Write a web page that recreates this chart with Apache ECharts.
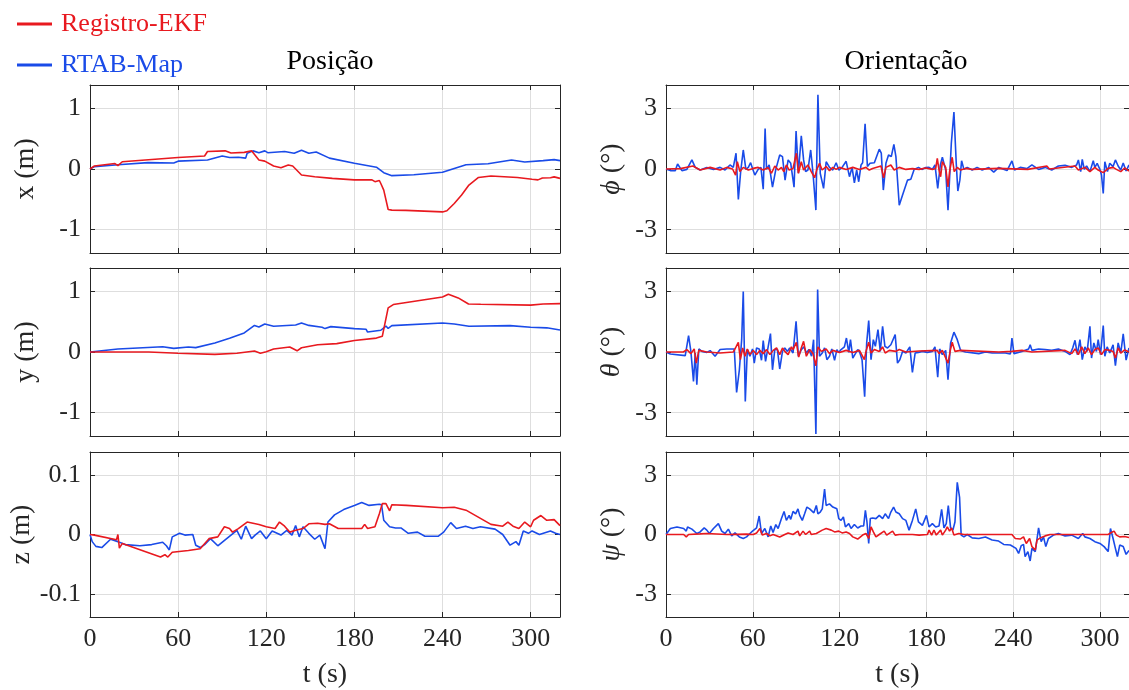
<!DOCTYPE html>
<html>
<head>
<meta charset="utf-8">
<title>Posição e Orientação</title>
<script src="https://cdn.jsdelivr.net/npm/echarts@6/dist/echarts.min.js"></script>
<style>
  html, body { margin: 0; padding: 0; background: #ffffff; }
  #chart { width: 1129px; height: 690px; }
</style>
</head>
<body>
<div id="chart"></div>
<script>
// ---- time axis ----
const T_MIN = 0;
const T_MAX = 320;
const tTicks = [0, 60, 120, 180, 240, 300];

// ---- y tick values ----
const posTicks = [-1, 0, 1];
const zTicks = [-0.1, 0, 0.1];
const angTicks = [-3, 0, 3];
const posRange = 1.39;
const zRange = 0.139;
const angRange = 4.15;

// ---- position (m): [t (s), value] ----
const ekfX = [[0,0],[3,0.05],[17,0.09],[19,0.055],[22,0.12],[60,0.19],[78,0.215],[80,0.29],[92,0.30],[96,0.265],[105,0.275],[110,0.30],[115,0.15],[119,0.13],[125,0.05],[130,0.02],[135,0.065],[138,0.05],[144,-0.10],[153,-0.127],[165,-0.155],[180,-0.18],[192,-0.18],[194,-0.21],[197,-0.19],[198,-0.24],[200,-0.35],[203,-0.67],[205.5,-0.68],[215,-0.685],[240,-0.71],[243,-0.69],[248,-0.57],[253,-0.43],[258,-0.265],[264.5,-0.14],[273,-0.115],[291,-0.14],[301,-0.17],[305,-0.18],[308,-0.15],[313.5,-0.145],[316,-0.13],[320,-0.155]];
const rtabX = [[0,0],[3,0.04],[19,0.07],[39.5,0.105],[57,0.10],[60,0.13],[80,0.15],[90,0.215],[95,0.19],[101,0.195],[106,0.18],[107,0.26],[111,0.30],[115,0.27],[119,0.30],[121,0.27],[132.5,0.29],[139,0.26],[144,0.31],[149,0.26],[154,0.28],[163,0.18],[180,0.094],[195,0.03],[200,-0.06],[205.5,-0.11],[220.5,-0.094],[240,-0.055],[248,0.01],[256,0.07],[271,0.088],[287,0.15],[296,0.116],[308.5,0.138],[316,0.155],[320,0.138]];

const ekfY = [[0,0],[40,0],[60,-0.02],[85,-0.04],[100,-0.02],[112,0.017],[116,-0.02],[120,0.005],[125,0.05],[136,0.083],[141,0.02],[144,0.07],[155,0.12],[168,0.138],[180,0.19],[195,0.23],[199,0.26],[203,0.73],[206.5,0.785],[240,0.91],[244,0.955],[250.7,0.895],[257.7,0.795],[266,0.79],[300,0.775],[308.5,0.795],[320,0.80]];
const rtabY = [[0,0],[19,0.05],[49.5,0.088],[57,0.06],[67,0.083],[72,0.072],[85,0.15],[95,0.227],[105,0.315],[112,0.44],[115,0.414],[119,0.464],[125,0.425],[140,0.447],[144,0.48],[149,0.44],[158,0.41],[160,0.387],[164,0.42],[180,0.387],[188,0.376],[189,0.33],[198,0.36],[201.5,0.43],[203,0.39],[205.5,0.436],[240,0.48],[248,0.464],[258,0.425],[286,0.436],[300,0.41],[311,0.40],[320,0.365]];

const ekfZ = [[0,0],[3,-0.001],[18,-0.009],[19,0.0],[20,-0.023],[22,-0.015],[48,-0.038],[51,-0.034],[53,-0.038],[56,-0.030],[67,-0.027],[75,-0.024],[81,-0.007],[87,-0.004],[91.5,0.013],[95,0.01],[97,0.004],[101,0.01],[107,0.021],[115,0.017],[120,0.013],[126,0.01],[129,0.021],[132.5,0.014],[136,0.004],[140,0.007],[145,0.01],[149,0.018],[155,0.019],[160,0.017],[163,0.018],[169,0.01],[178,0.01],[185,0.01],[187,0.017],[189,0.01],[194,0.013],[197,0.035],[199,0.052],[201.5,0.052],[204,0.04],[205.5,0.05],[215.5,0.049],[240,0.045],[248,0.046],[256,0.041],[273,0.017],[281,0.014],[284.5,0.021],[288,0.014],[292,0.01],[296,0.021],[300,0.013],[302,0.024],[307,0.032],[311,0.024],[316,0.025],[320,0.015]];
const rtabZ = [[0,0],[1.5,-0.012],[4,-0.02],[8,-0.022],[14,-0.008],[19,-0.012],[24,-0.017],[34,-0.019],[42,-0.017],[49.5,-0.013],[52,-0.019],[54,-0.026],[56,-0.004],[61,0.002],[64.6,-0.001],[70,0],[72,-0.018],[75,-0.022],[78,-0.017],[82,-0.007],[87,-0.019],[92,-0.009],[96,-0.001],[100,0.007],[103,-0.008],[106,0.014],[110,-0.007],[112.4,-0.001],[116,0.006],[120,-0.007],[124,0.006],[130,-0.001],[134,0.007],[137.5,-0.001],[140,0.015],[142.5,-0.004],[145,0.013],[149,0.002],[153,-0.008],[156.5,-0.001],[160,-0.024],[162,0.021],[166.5,0.033],[172.7,0.042],[180,0.049],[185,0.054],[190,0.049],[197,0.051],[198.5,0.05],[200,0.024],[204,0.013],[208,0.011],[211.7,0.011],[216.7,0.002],[223,0.004],[228,-0.003],[237,-0.003],[240.8,0.004],[245.6,0.02],[249.5,0.01],[255.7,0.014],[260.7,0.01],[265.8,0.013],[275.8,0.009],[281,0],[286,-0.018],[290,-0.012],[292,-0.018],[295,0.006],[298.5,0.002],[301,0.006],[306,0],[313.5,0.006],[317,0.002],[320,0]];

// ---- orientation (deg): [t (s), value] ----
const ekfPhi = [[0,0],[10,0.02],[18.6,0.15],[23.6,-0.05],[30.5,0.08],[37.4,-0.05],[42,0.08],[46,0],[48.1,-0.3],[49.3,0.36],[51.1,-0.13],[53.4,0.08],[56.9,-0.05],[60.3,0.03],[63.7,0.08],[67.2,-0.05],[70.6,0.07],[72.9,-0.21],[75.2,0.15],[77.5,-0.05],[79.8,0.08],[81.4,-0.13],[83.2,0.2],[85.1,-0.05],[87.8,0.03],[90.1,0.78],[91.5,-0.21],[93.5,0.36],[95.1,-0.05],[98.1,0.2],[100.4,-0.13],[102.7,-0.43],[104.3,-0.02],[106.1,0.28],[107.9,-0.05],[110.7,0.12],[113,-0.08],[115.3,0.08],[117.6,-0.02],[119.9,0.08],[124.5,-0.02],[129.1,0.08],[133.7,-0.02],[138.2,0.08],[140.5,-0.05],[142.8,0.02],[148.6,0.15],[150.4,-0.43],[152,0.08],[155.4,0.2],[157.7,-0.05],[161.2,0.08],[165.8,-0.02],[170.3,0.02],[174.9,-0.02],[179.5,0.05],[184.1,-0.02],[186.4,0.03],[187.5,0.53],[188.7,-0.05],[189.8,-0.38],[191,0.36],[193.3,0.08],[194.9,-0.88],[196,-0.13],[197.8,0.58],[199.2,-0.13],[201.3,0.08],[203.6,-0.05],[207,0.03],[211.6,-0.02],[230,0.03],[250,-0.02],[263.2,0.15],[265,0],[282.7,0.15],[285,-0.05],[289.5,0.08],[293,-0.13],[296.4,0.08],[298.7,-0.05],[302.2,-0.18],[305.6,0.03],[309,0.08],[311.3,-0.02],[314.3,-0.13],[317,0.05],[320,-0.1]];
const rtabPhi = [[0,0],[3,-0.08],[6.4,-0.08],[8,0.25],[11,-0.08],[14.4,-0.02],[17.9,0.45],[20.2,0.08],[23.6,-0.05],[28.2,0.07],[32.8,-0.02],[37.4,0.08],[40.8,-0.05],[44.2,0.2],[46.5,0.08],[48.4,0.78],[50,-1.5],[51.6,-0.13],[53.4,0.94],[55.2,-0.02],[56.9,0.08],[58.5,0.31],[59.8,0.03],[61.4,-0.3],[63.7,-0.02],[65.6,0.08],[67.2,-1.0],[68.5,2.0],[69.5,-0.02],[71.3,0.2],[73.6,-0.9],[75.9,-0.02],[78.6,0.69],[80.5,0.61],[82.3,-0.55],[84.4,0.45],[86.2,0.28],[88.5,-0.9],[89.9,1.88],[91.5,-0.21],[93.5,1.64],[95.1,0.45],[96.5,-0.13],[98.1,-0.05],[100,0.94],[101.6,-0.21],[103.6,-2.03],[105,3.67],[106.6,-0.21],[108.9,-0.96],[110.7,0.36],[113,0.08],[115.3,-0.05],[117.6,0.31],[119.4,-0.05],[121.7,0.08],[124.5,0.38],[126.8,-0.38],[128.6,0.08],[130.2,-0.68],[131.8,-0.05],[133.2,-0.63],[134.8,0.2],[135.9,0.31],[137.6,2.23],[139.2,0.12],[141,0.28],[144,0.31],[147.4,0.98],[148.8,0.78],[150.2,-1.04],[152,0.28],[153.8,0.69],[155.7,0.61],[157.5,1.22],[158.9,0.61],[161.2,-1.79],[163.5,-1.29],[166.9,-0.55],[169.2,-0.51],[171.5,-0.02],[174.5,0.08],[176.8,-0.02],[179.5,0.07],[181.8,0.08],[184.1,-0.02],[185.9,0.2],[187.8,-0.96],[189.6,0.2],[191,0.58],[193.3,-0.05],[194.9,-2.03],[197.2,1.27],[199,2.81],[200.6,0.28],[201.7,-1.09],[203.1,-0.55],[204.3,0.41],[205.9,-0.02],[208.2,0.08],[211.6,-0.05],[215,0.08],[218.5,-0.05],[223.1,0.07],[226.5,-0.15],[230,0.08],[235.7,-0.08],[239.1,0.4],[240.9,-0.05],[244.8,0.08],[249.4,0.02],[252.9,0.2],[257.5,-0.02],[262,0.08],[266.6,-0.05],[271.2,0.15],[275.8,0.18],[280.4,0.08],[283.8,0.2],[285,0.45],[286.6,-0.13],[287.7,0.48],[289.1,-0.02],[290.7,0.15],[293,-0.13],[295.3,0.41],[296.4,0.08],[298,0.28],[299.9,-0.02],[301,-0.3],[302.2,-1.21],[303.3,0.36],[305.1,-0.13],[306.7,0.28],[309,0.12],[310.6,0.45],[312.5,0.15],[314.3,-0.05],[316,0.3],[318,-0.1],[320,0.2]];

const ekfTheta = [[0,0],[12,0],[14.4,0.12],[17.2,-0.08],[19.5,0.15],[20.9,-0.55],[22.7,0.08],[28.2,0],[37.4,-0.05],[46.5,0],[48.4,0.25],[50,0.48],[51.4,-0.38],[53,0.2],[54.6,-0.21],[56.2,0.15],[58,-0.13],[60.3,0.08],[62.6,-0.13],[64.9,0.08],[67.2,-0.08],[69.5,0.12],[71.8,-0.13],[74.1,0.08],[76.4,0.2],[78.6,-0.13],[80.5,0.2],[82.1,0.03],[84.4,-0.13],[86.7,0.25],[87.8,0.12],[90.1,0.48],[91.7,-0.25],[93.5,0.2],[95.1,0.53],[97,-0.21],[99.3,0.12],[101.6,-0.08],[103.6,-0.68],[105,0.25],[107.3,0.03],[110.7,0.15],[113,-0.08],[115.3,0.08],[119.9,-0.02],[124.5,0.08],[129.1,-0.02],[133.7,0.08],[137.1,-0.38],[138.2,0.03],[140.1,0.48],[141.7,-0.05],[144,0.12],[147.4,0.03],[149.7,0.25],[151.5,-0.05],[154.3,0.08],[158.9,0.03],[161.2,0.12],[165.8,0],[175,0.05],[187.5,0.08],[188.7,-0.08],[191,0.08],[194.9,-0.55],[196.7,0.15],[197.8,0.48],[199.7,0.03],[203.6,0.08],[230,0],[239.1,0.03],[246,0.08],[252.9,0],[275.8,0.08],[280.4,-0.08],[282.7,0.15],[285,-0.13],[287.3,0.25],[289.5,-0.08],[291.8,0.2],[294.1,-0.13],[296.4,0.12],[298.7,0.2],[301,-0.13],[303.3,0.12],[306.7,0.08],[309,0.03],[310.6,-0.3],[312.5,0.2],[314.3,-0.05],[317,0.1],[320,0]];
const rtabTheta = [[0,0],[3,-0.1],[13.3,-0.18],[15.6,0.81],[17.2,0.03],[19,-1.45],[20.2,-0.05],[21.3,-1.62],[22.7,0.15],[24.8,0.03],[28.2,-0.02],[30.5,0.07],[33.9,-0.21],[37.4,0.12],[42,0.15],[45.4,0.15],[47.2,0.15],[48.8,-2.0],[50.7,-0.88],[52.3,0.61],[53.4,2.99],[54.8,-2.45],[56.2,0.12],[58,-0.21],[59.8,0.15],[61,-0.55],[62.6,0.2],[64.4,0.15],[66,-0.41],[67.2,0.56],[68.8,-0.46],[70.6,0.25],[72.2,0.91],[73.6,-0.88],[75.2,0.12],[77,0.12],[78.6,-0.84],[80.5,0.03],[82.1,0.2],[83.9,0.03],[85.5,0.2],[87.8,-0.05],[89.9,1.52],[91.5,-0.21],[93.5,0.12],[95.4,0.25],[97,-0.05],[98.8,0.12],[100.6,-0.21],[102,0.61],[103.6,-4.05],[104.8,3.09],[106.1,-0.21],[108,-0.05],[109.6,0.2],[111.2,-0.38],[113,-0.21],[114.6,0.15],[116.5,-0.41],[118.1,0.12],[119.4,-0.02],[121,0.12],[123.3,0.25],[124.7,0.69],[126.3,-0.02],[127.5,0.61],[129.1,-0.3],[130.9,-0.08],[132.5,0.12],[133.9,-0.02],[135.5,-0.38],[137.3,-2.21],[138.7,0.45],[140.1,1.55],[141.7,-0.38],[143.3,0.61],[144.7,0.28],[146.5,1.11],[148.1,0.03],[149.7,1.27],[151.3,0.28],[153.1,0.2],[155.4,0.36],[158.4,0.86],[160,-0.55],[161.6,-0.38],[163.5,0.03],[165.8,-0.05],[168.5,0.25],[170.3,-1.01],[172.2,-0.05],[174.5,-0.02],[177.2,0.03],[180.7,-0.02],[184.1,0.03],[185.9,0.25],[187.8,-1.24],[189.1,0.15],[191,-0.13],[193.3,0.08],[194.9,-1.37],[196.7,0.45],[199,0.98],[201.3,0.61],[203.6,0.08],[207,0],[216.2,-0.08],[220.8,0],[225.4,-0.05],[234.5,-0.05],[238,-0.1],[239.1,0.69],[240.5,-0.08],[246,0.02],[250.6,0.15],[251.7,0.36],[252.9,0.08],[257.5,0.15],[262,0.12],[266.6,0.08],[271.2,0.15],[275.8,0.03],[279.2,-0.13],[281.1,0.2],[282.7,0.58],[284.3,-0.13],[286.1,0.61],[287.7,-0.38],[289.5,0.25],[291.1,0.03],[293,1.27],[294.1,-0.3],[295.7,0.45],[297.5,0.03],[298.7,0.61],[300.3,-0.13],[302.2,1.31],[303.3,-0.21],[304.9,0.25],[306.7,-0.05],[309,0.36],[310.6,-0.68],[312.5,0.45],[314.3,-0.05],[316,0.9],[318,-0.4],[320,0.2]];

const ekfPsi = [[0,0],[12.2,0],[14,-0.12],[15.6,0],[23.6,0.03],[28.2,0.05],[29.3,-0.03],[42,0],[55.7,0.02],[60.3,0],[62.6,0.08],[64.9,0.3],[66.5,-0.03],[69.5,0.05],[71.8,-0.07],[74,0],[78.6,-0.13],[82.1,0],[84.4,0.08],[87.8,0],[91.2,0.17],[92.4,-0.07],[94.7,0.17],[96.5,0],[99.3,0.17],[100.4,0],[103.9,0.05],[108,0.22],[110.7,0.3],[114.2,0.22],[116.5,0.13],[119.4,0.17],[121.7,0.08],[124.5,0.13],[126.8,0.05],[129.1,-0.12],[132.5,-0.23],[135.9,-0.03],[138.2,0.05],[140.1,-0.2],[141.7,0.38],[143.3,0.13],[145.1,-0.12],[147.4,0],[150.8,0.17],[152.5,-0.03],[156.6,0.17],[158.4,-0.03],[161.2,0],[170.3,0],[174.9,-0.03],[180.7,0],[181.8,0.22],[183.6,-0.03],[185.2,0.22],[186.8,-0.03],[189.8,0.22],[191,-0.03],[193.3,0.22],[194.4,0.38],[196,0.17],[197.4,0.33],[199,-0.03],[202.4,0.05],[205.9,0],[239.1,0],[241.4,-0.2],[244.8,-0.23],[247.1,-0.12],[249,-0.45],[251.3,-0.2],[252.9,-0.61],[255.2,-0.78],[256.4,-0.28],[258.7,-0.17],[262,-0.07],[265.5,0],[305.6,0],[307.8,0.1],[309.7,0.17],[311.3,-0.03],[313.6,-0.12],[317,-0.1],[320,-0.15]];
const rtabPsi = [[0,0],[3,0.3],[7.6,0.38],[12.2,0.3],[14,0.17],[14.9,0.38],[17.9,0.27],[21.3,0.05],[23.6,0.13],[26.4,0.33],[28.2,0.22],[30,0.05],[32.8,0.3],[36.2,0.55],[38.5,0.17],[40.8,0.05],[43.1,0.27],[45.4,-0.07],[47.7,0.08],[50.7,-0.12],[53.4,-0.2],[55.7,-0.12],[58,0.05],[59.8,0.17],[62.6,0.33],[64.4,0.93],[66,0.05],[68.3,0.3],[70.6,-0.12],[72.4,0.43],[74,0.1],[75.9,0.5],[77.5,0.3],[79.8,0.8],[81.6,1.16],[83.2,0.71],[85.1,0.96],[86.2,0.76],[87.8,1.16],[89.6,1.04],[91.2,1.29],[92.4,0.96],[94.2,0.71],[95.8,1.04],[97.4,1.38],[99.3,1.29],[100.6,1.26],[102.2,1.09],[103.9,1.46],[105,1.04],[106.6,1.13],[108,1.29],[109.6,2.29],[110.7,1.46],[113,1.54],[115.3,1.38],[118.1,1.29],[119.4,0.8],[121,0.71],[122.6,0.88],[124,0.38],[126.3,0.55],[127.9,0.3],[130.2,0.5],[132.5,0.33],[134.8,0.43],[136.6,0.43],[137.8,1.21],[138.9,0.63],[140.1,-0.45],[141.2,0.8],[142.8,0.83],[145.1,0.8],[147.4,0.96],[149.7,0.8],[151.5,1.04],[153.8,0.8],[155.4,1.13],[157.3,1.38],[158.9,1.13],[161.2,1.04],[163.5,0.8],[165.8,0.71],[168,0.22],[170.3,0.71],[172.6,1.29],[174.5,0.63],[177.2,0.46],[180,0.96],[181.8,0.38],[184.1,0.55],[186.4,0.38],[188.7,0.43],[190.5,1.26],[192.1,0.33],[193.7,0.55],[195.1,1.46],[196.7,0.33],[198.3,0.22],[199.7,0.63],[201.3,2.62],[202.9,1.87],[204,-0.03],[205.9,-0.12],[208.2,0],[211.6,-0.17],[216.2,-0.2],[220.8,-0.13],[225.4,-0.28],[229.9,-0.33],[233.4,-0.5],[238,-0.53],[239.1,-0.45],[241.9,-0.7],[243.7,-0.95],[245.5,-0.56],[247.1,-0.5],[248.2,-1.11],[250.1,-0.86],[251.7,-1.33],[252.9,-0.7],[255.2,-0.86],[257.5,0.33],[259.3,-0.36],[260.9,-0.12],[262.5,-0.61],[264.3,-0.2],[267.8,-0.03],[271.2,0.05],[275.8,-0.07],[280.4,-0.03],[285,-0.2],[288,0.05],[289.5,-0.12],[293,-0.2],[296.4,-0.36],[299.9,-0.45],[302.8,-0.61],[305.6,-0.86],[307.2,0.3],[309,-0.2],[310.6,-0.7],[312,-1.11],[313.6,-0.53],[316,-0.6],[318,-1.0],[320,-0.8]];

// ---- labels ----
const seriesNames = ['Registro-EKF', 'RTAB-Map'];
const columnTitles = ['Posição', 'Orientação'];
const timeLabel = 't (s)';

// ---- styling ----
const FONT = '"Liberation Serif", "DejaVu Serif", serif';
const INK = '#262626';
const GRID_LINE = '#dedede';
const RED = '#e8191f';
const BLUE = '#1a4be8';

// panel layout (pixels)
const colLeft = [90, 666];
const rowTop = [85, 268, 452];
const plotW = 470;
const plotH = 168;

const panels = [
  { col: 0, row: 0, ekf: ekfX, rtab: rtabX, ticks: posTicks, range: posRange, label: 'x (m)' },
  { col: 0, row: 1, ekf: ekfY, rtab: rtabY, ticks: posTicks, range: posRange, label: 'y (m)' },
  { col: 0, row: 2, ekf: ekfZ, rtab: rtabZ, ticks: zTicks, range: zRange, label: 'z (m)' },
  { col: 1, row: 0, ekf: ekfPhi, rtab: rtabPhi, ticks: angTicks, range: angRange, label: '{g|ϕ} (°)' },
  { col: 1, row: 1, ekf: ekfTheta, rtab: rtabTheta, ticks: angTicks, range: angRange, label: '{g|θ} (°)' },
  { col: 1, row: 2, ekf: ekfPsi, rtab: rtabPsi, ticks: angTicks, range: angRange, label: '{g|ψ} (°)' }
];

const textBase = { fontFamily: FONT, color: INK };
const boxLine = { onZero: false, lineStyle: { color: INK, width: 1 } };

const grid = [], xAxis = [], yAxis = [], series = [];

panels.forEach((p, i) => {
  grid.push({ left: colLeft[p.col], top: rowTop[p.row], width: plotW, height: plotH });

  const bottomRow = p.row === 2;
  const tickStyle = { inside: true, length: 5, lineStyle: { color: INK, width: 1 } };

  // bottom time axis
  xAxis.push({
    gridIndex: i, type: 'value', min: T_MIN, max: T_MAX, position: 'bottom',
    axisLine: boxLine,
    axisTick: Object.assign({ customValues: tTicks }, tickStyle),
    axisLabel: Object.assign({ show: bottomRow, customValues: tTicks, margin: 9, fontSize: 26 }, textBase),
    splitLine: { show: true, lineStyle: { color: GRID_LINE, width: 1 } },
    name: bottomRow ? timeLabel : '',
    nameLocation: 'middle', nameGap: 44,
    nameTextStyle: Object.assign({ fontSize: 28 }, textBase)
  });
  // top frame edge
  xAxis.push({
    gridIndex: i, type: 'value', min: T_MIN, max: T_MAX, position: 'top',
    axisLine: boxLine,
    axisTick: Object.assign({ customValues: tTicks }, tickStyle),
    axisLabel: { show: false },
    splitLine: { show: false }
  });

  // left value axis
  yAxis.push({
    gridIndex: i, type: 'value', min: -p.range, max: p.range, position: 'left',
    axisLine: boxLine,
    axisTick: Object.assign({ customValues: p.ticks }, tickStyle),
    axisLabel: Object.assign({ customValues: p.ticks, margin: 9, fontSize: 26 }, textBase),
    splitLine: { show: true, lineStyle: { color: GRID_LINE, width: 1 } },
    name: p.label, nameLocation: 'middle',
    nameGap: p.col === 0 ? 50 : 40,
    nameTextStyle: Object.assign({
      fontSize: 28,
      rich: { g: { fontFamily: FONT, fontSize: 28, fontStyle: 'italic', color: INK } }
    }, textBase)
  });
  // right frame edge
  yAxis.push({
    gridIndex: i, type: 'value', min: -p.range, max: p.range, position: 'right',
    axisLine: boxLine,
    axisTick: Object.assign({ customValues: p.ticks }, tickStyle),
    axisLabel: { show: false },
    splitLine: { show: false }
  });

  const common = {
    type: 'line', xAxisIndex: 2 * i, yAxisIndex: 2 * i,
    showSymbol: false, symbol: 'none', animation: false, clip: true
  };
  series.push(Object.assign({}, common, {
    name: seriesNames[1], data: p.rtab, z: 2,
    lineStyle: { color: BLUE, width: 1.6 }, itemStyle: { color: BLUE }
  }));
  series.push(Object.assign({}, common, {
    name: seriesNames[0], data: p.ekf, z: 3,
    lineStyle: { color: RED, width: 1.6 }, itemStyle: { color: RED }
  }));
});

const titleCenters = colLeft.map(l => l + plotW / 2);

const option = {
  backgroundColor: '#ffffff',
  animation: false,
  title: columnTitles.map((t, c) => ({
    text: t, left: titleCenters[c], top: 43, textAlign: 'center',
    textStyle: { fontFamily: FONT, fontSize: 28, fontWeight: 'normal', color: '#000000' }
  })),
  legend: {
    orient: 'vertical', left: 17, top: 11, padding: 0,
    icon: 'rect', itemWidth: 35, itemHeight: 3, itemGap: 15,
    textStyle: { fontFamily: FONT, fontSize: 26, padding: [0, 0, 0, 4] },
    data: [
      { name: seriesNames[0], textStyle: { color: RED } },
      { name: seriesNames[1], textStyle: { color: BLUE } }
    ]
  },
  grid, xAxis, yAxis, series
};

const chart = echarts.init(document.getElementById('chart'), null, { renderer: 'canvas' });
chart.setOption(option);
</script>
</body>
</html>
